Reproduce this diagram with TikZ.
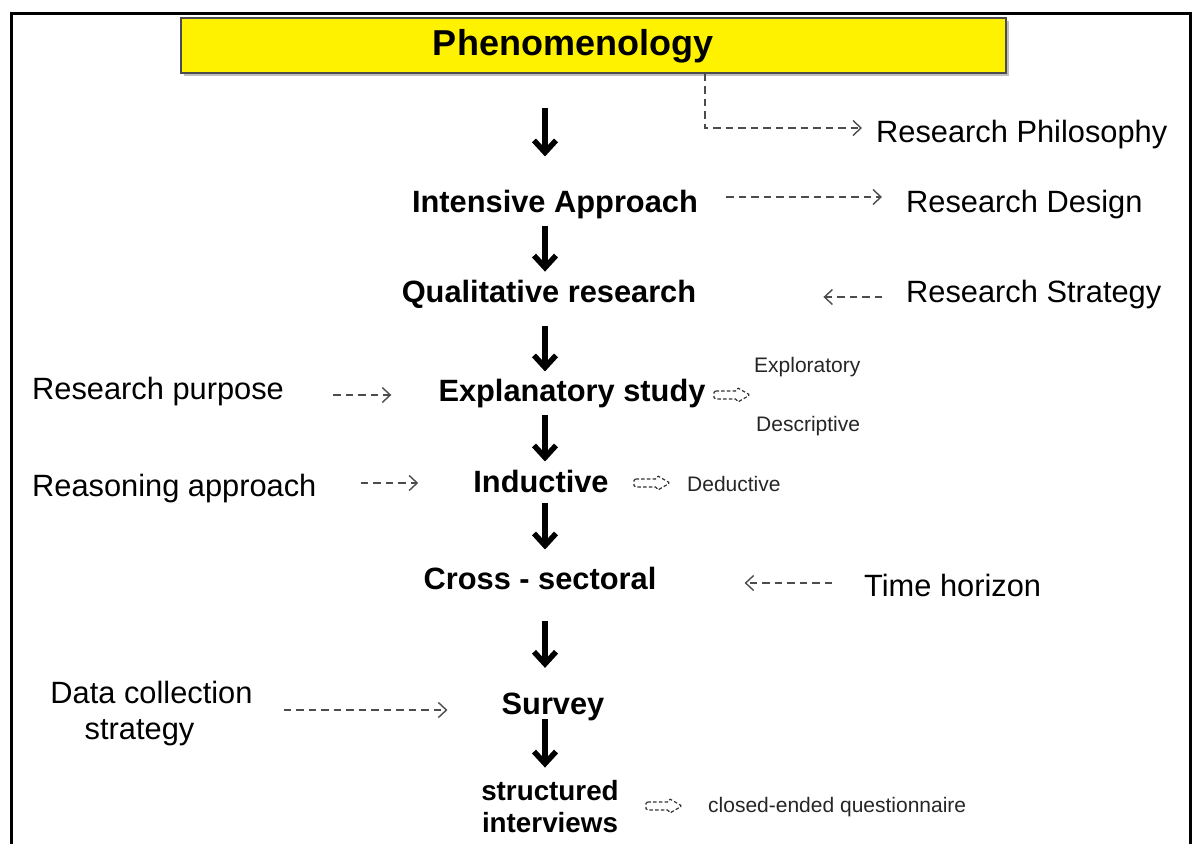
\documentclass[tikz,border=0pt]{standalone}
\usepackage{fontspec}
\setmainfont{Liberation Sans}
\usetikzlibrary{arrows.meta,shadows}

\begin{document}
\begin{tikzpicture}[x=1pt,y=-1pt,
  lbl/.style={inner sep=0pt, font=\fontsize{30.8}{36}\selectfont},
  stage/.style={inner sep=0pt, font=\fontsize{30.8}{36}\selectfont\bfseries},
  small/.style={inner sep=0pt, font=\fontsize{21}{25}\selectfont, text=black!85},
  bigarr/.style={line width=5.5pt, -{Straight Barb[length=12pt,width=22pt]}},
  dasharr/.style={draw=black!70, line width=1.4pt, dash pattern=on 7.5pt off 5pt,
    -{Straight Barb[length=8pt,width=15pt]}},
  hollow/.style={draw=black!80, line width=1.2pt, dash pattern=on 3.5pt off 2.2pt,
    rounded corners=1.5pt}
]
\useasboundingbox (0,0) rectangle (1195,844);
\fill[white] (0,0) rectangle (1195,844);
% page frame (open at the bottom)
\draw[line width=3pt] (11,870) -- (11,13) -- (1190,13) -- (1190,870);

\coordinate (spine) at (545,0);
\coordinate (tap) at (705,0);

% title box
\node[draw=black!70, line width=1.2pt, fill=yellow, minimum width=825pt, minimum height=55pt,
  drop shadow={shadow xshift=3pt, shadow yshift=-3pt, opacity=0.5}] (box) at (593.5,45.5) {};
\node[inner sep=0pt, font=\fontsize{36}{40}\selectfont\bfseries] (title) at (573,46) {Phenomenology};

% main chain
\node[stage] (ia)     at (555,205)   {Intensive Approach};
\node[stage] (qual)   at (549,294)   {Qualitative research};
\node[stage] (expl)   at (572,394)   {Explanatory study};
\node[stage] (ind)    at (541,481)   {Inductive};
\node[stage] (cross)  at (540,578)   {Cross - sectoral};
\node[stage] (survey) at (553,707)   {Survey};
\node[stage, align=center, font=\fontsize{27.8}{32}\selectfont\bfseries] (struct) at (550,807)
  {structured\\interviews};

% side labels
\node[lbl, anchor=west] (phil)   at (876,135) {Research Philosophy};
\node[lbl, anchor=west] (design) at (906,205) {Research Design};
\node[lbl, anchor=west] (strat)  at (906,295) {Research Strategy};
\node[lbl, anchor=west] (purp)   at (32,392)  {Research purpose};
\node[lbl, anchor=west] (reason) at (32,489)  {Reasoning approach};
\node[lbl, anchor=west] (timeh)  at (864,585) {Time horizon};
\node[lbl, align=center] (data)  at (151.5,714) {Data collection\\strategy\hspace*{24pt}};

% alternatives
\node[small, anchor=west] (explo)  at (754,367) {Exploratory};
\node[small, anchor=west] (descr)  at (756,426) {Descriptive};
\node[small, anchor=west] (deduct) at (687,484) {Deductive};
\node[small, anchor=west] (closed) at (708,807) {closed-ended questionnaire};
\coordinate (alt1) at (732,395);
\coordinate (alt2) at (652,483);
\coordinate (alt3) at (664,806);
\foreach \c in {alt1,alt2,alt3}
  \draw[hollow] ([shift={(-18,-4)}]\c) -- ([shift={(5,-4)}]\c) -- ([shift={(5,-7.5)}]\c)
    -- ([shift={(18,0)}]\c) -- ([shift={(5,7.5)}]\c) -- ([shift={(5,4)}]\c)
    -- ([shift={(-18,4)}]\c) -- cycle;

% downward flow
\draw[bigarr] ([yshift=-34pt]box.south -| spine) -- ([yshift=34pt]ia.north -| spine);
\draw[bigarr] ([yshift=-6pt]ia.south -| spine) -- ([yshift=8pt]qual.north -| spine);
\draw[bigarr] ([yshift=-18pt]qual.south -| spine) -- ([yshift=8pt]expl.north -| spine);
\draw[bigarr] ([yshift=-6pt]expl.south -| spine) -- ([yshift=8pt]ind.north -| spine);
\draw[bigarr] ([yshift=-10pt]ind.south -| spine) -- ([yshift=17pt]cross.north -| spine);
\draw[bigarr] ([yshift=-31pt]cross.south -| spine) -- ([yshift=25pt]survey.north -| spine);
\draw[bigarr] ([yshift=2pt]survey.south -| spine) -- ([yshift=13pt]struct.north -| spine);

% dashed classification links
\draw[dasharr] (box.south -| tap) |- ([xshift=-14pt,yshift=7pt]phil.west);
\draw[dasharr, shorten <=28pt, shorten >=24pt] ([yshift=8pt]ia.east) -- ([yshift=8pt]ia.east -| design.west);
\draw[dasharr, shorten <=24pt, shorten >=127pt] ([yshift=-2pt]strat.west) -- ([yshift=-2pt]strat.west -| qual.east);
\draw[dasharr, shorten <=49pt, shorten >=47pt] ([yshift=-3pt]purp.east) -- ([yshift=-3pt]purp.east -| expl.west);
\draw[dasharr, shorten <=44pt, shorten >=55pt] ([yshift=6pt]reason.east) -- ([yshift=6pt]reason.east -| ind.west);
\draw[dasharr, shorten <=32pt, shorten >=88pt] ([yshift=2pt]timeh.west) -- ([yshift=2pt]timeh.west -| cross.east);
\draw[dasharr, shorten <=31pt, shorten >=54pt] ([yshift=4pt]data.east) -- ([yshift=4pt]data.east -| survey.west);
\end{tikzpicture}
\end{document}
